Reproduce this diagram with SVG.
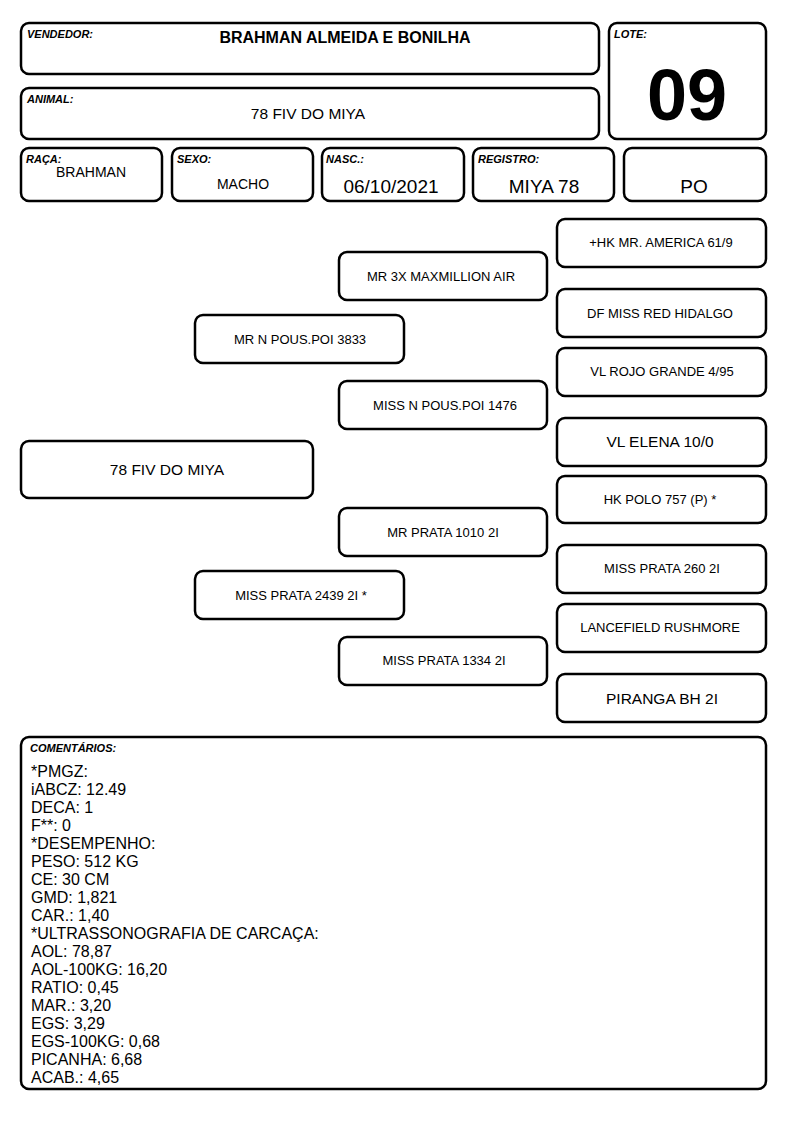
<svg xmlns="http://www.w3.org/2000/svg" width="794" height="1123" viewBox="0 0 794 1123">
<style>
rect.b{fill:#fff;stroke:#000;stroke-width:2.5}
text{font-family:"Liberation Sans",Arial,sans-serif;fill:#000}
.lbl{font-size:11px;font-weight:bold;font-style:italic}
.t{text-anchor:middle}
.p{font-size:13px;text-anchor:middle}
.pl{font-size:15.5px;text-anchor:middle}
.c{font-size:16px}
</style>
<rect width="794" height="1123" fill="#fff"/>
<g id="vendedor"><rect class="b" x="21" y="23" width="578" height="51" rx="8"/><text class="lbl" x="27" y="38">VENDEDOR:</text><text class="t" x="345" y="43" font-size="16" font-weight="bold">BRAHMAN ALMEIDA E BONILHA</text></g>
<g id="lote"><rect class="b" x="609" y="23" width="157" height="116" rx="8"/><text class="lbl" x="614" y="38">LOTE:</text><text class="t" x="687" y="120" font-size="72" font-weight="bold">09</text></g>
<g id="animal"><rect class="b" x="21" y="88" width="578" height="51" rx="8"/><text class="lbl" x="27" y="103">ANIMAL:</text><text class="t" x="308" y="119" font-size="15.5">78 FIV DO MIYA</text></g>
<g id="raca"><rect class="b" x="21" y="148" width="141" height="53" rx="8"/><text class="lbl" x="26" y="163">RAÇA:</text><text class="t" x="91" y="177" font-size="14">BRAHMAN</text></g>
<g id="sexo"><rect class="b" x="172" y="148" width="141" height="53" rx="8"/><text class="lbl" x="177" y="163">SEXO:</text><text class="t" x="243" y="189" font-size="14">MACHO</text></g>
<g id="nasc"><rect class="b" x="322" y="148" width="142" height="53" rx="8"/><text class="lbl" x="326" y="163">NASC.:</text><text class="t" x="391" y="193" font-size="19">06/10/2021</text></g>
<g id="registro"><rect class="b" x="473" y="148" width="141" height="53" rx="8"/><text class="lbl" x="478" y="163">REGISTRO:</text><text class="t" x="544" y="193" font-size="19">MIYA 78</text></g>
<g id="po"><rect class="b" x="624" y="148" width="142" height="53" rx="8"/><text class="t" x="694" y="193" font-size="19">PO</text></g>
<g id="connectors"></g>
<g id="n_hk_america"><rect class="b" x="557" y="219" width="209" height="48" rx="8"/><text class="p" x="661" y="247">+HK MR. AMERICA 61/9</text></g>
<g id="n_maxmillion"><rect class="b" x="339" y="252" width="208" height="48" rx="8"/><text class="p" x="441" y="281">MR 3X MAXMILLION AIR</text></g>
<g id="n_red_hidalgo"><rect class="b" x="557" y="289" width="209" height="48" rx="8"/><text class="p" x="660" y="318">DF MISS RED HIDALGO</text></g>
<g id="n_pous_3833"><rect class="b" x="195" y="315" width="209" height="48" rx="8"/><text class="p" x="300" y="344">MR N POUS.POI 3833</text></g>
<g id="n_rojo"><rect class="b" x="557" y="348" width="209" height="48" rx="8"/><text class="p" x="662" y="376">VL ROJO GRANDE 4/95</text></g>
<g id="n_pous_1476"><rect class="b" x="339" y="381" width="208" height="48" rx="8"/><text class="p" x="445" y="410">MISS N POUS.POI 1476</text></g>
<g id="n_elena"><rect class="b" x="557" y="418" width="209" height="48" rx="8"/><text class="pl" x="660" y="447">VL ELENA 10/0</text></g>
<g id="n_miya"><rect class="b" x="21" y="441" width="292" height="57" rx="8"/><text class="pl" x="167" y="475">78 FIV DO MIYA</text></g>
<g id="n_polo"><rect class="b" x="557" y="476" width="209" height="47" rx="8"/><text class="p" x="660" y="504">HK POLO 757 (P) *</text></g>
<g id="n_prata_1010"><rect class="b" x="339" y="508" width="208" height="48" rx="8"/><text class="p" x="443" y="537">MR PRATA 1010 2I</text></g>
<g id="n_prata_260"><rect class="b" x="557" y="545" width="209" height="48" rx="8"/><text class="p" x="662" y="573">MISS PRATA 260 2I</text></g>
<g id="n_prata_2439"><rect class="b" x="195" y="571" width="209" height="48" rx="8"/><text class="p" x="301" y="600">MISS PRATA 2439 2I *</text></g>
<g id="n_lancefield"><rect class="b" x="557" y="604" width="209" height="48" rx="8"/><text class="p" x="660" y="632">LANCEFIELD RUSHMORE</text></g>
<g id="n_prata_1334"><rect class="b" x="339" y="637" width="208" height="48" rx="8"/><text class="p" x="444" y="665">MISS PRATA 1334 2I</text></g>
<g id="n_piranga"><rect class="b" x="557" y="674" width="209" height="48" rx="8"/><text class="pl" x="662" y="704">PIRANGA BH 2I</text></g>
<g id="comentarios"><rect class="b" x="21" y="737" width="745" height="352" rx="8"/><text class="lbl" x="30" y="752">COMENTÁRIOS:</text>
<text class="c" x="31" y="777">*PMGZ:</text>
<text class="c" x="31" y="795">iABCZ: 12.49</text>
<text class="c" x="31" y="813">DECA: 1</text>
<text class="c" x="31" y="831">F**: 0</text>
<text class="c" x="31" y="849">*DESEMPENHO:</text>
<text class="c" x="31" y="867">PESO: 512 KG</text>
<text class="c" x="31" y="885">CE: 30 CM</text>
<text class="c" x="31" y="903">GMD: 1,821</text>
<text class="c" x="31" y="921">CAR.: 1,40</text>
<text class="c" x="31" y="939">*ULTRASSONOGRAFIA DE CARCAÇA:</text>
<text class="c" x="31" y="957">AOL: 78,87</text>
<text class="c" x="31" y="975">AOL-100KG: 16,20</text>
<text class="c" x="31" y="993">RATIO: 0,45</text>
<text class="c" x="31" y="1011">MAR.: 3,20</text>
<text class="c" x="31" y="1029">EGS: 3,29</text>
<text class="c" x="31" y="1047">EGS-100KG: 0,68</text>
<text class="c" x="31" y="1065">PICANHA: 6,68</text>
<text class="c" x="31" y="1083">ACAB.: 4,65</text>
</g>
</svg>
